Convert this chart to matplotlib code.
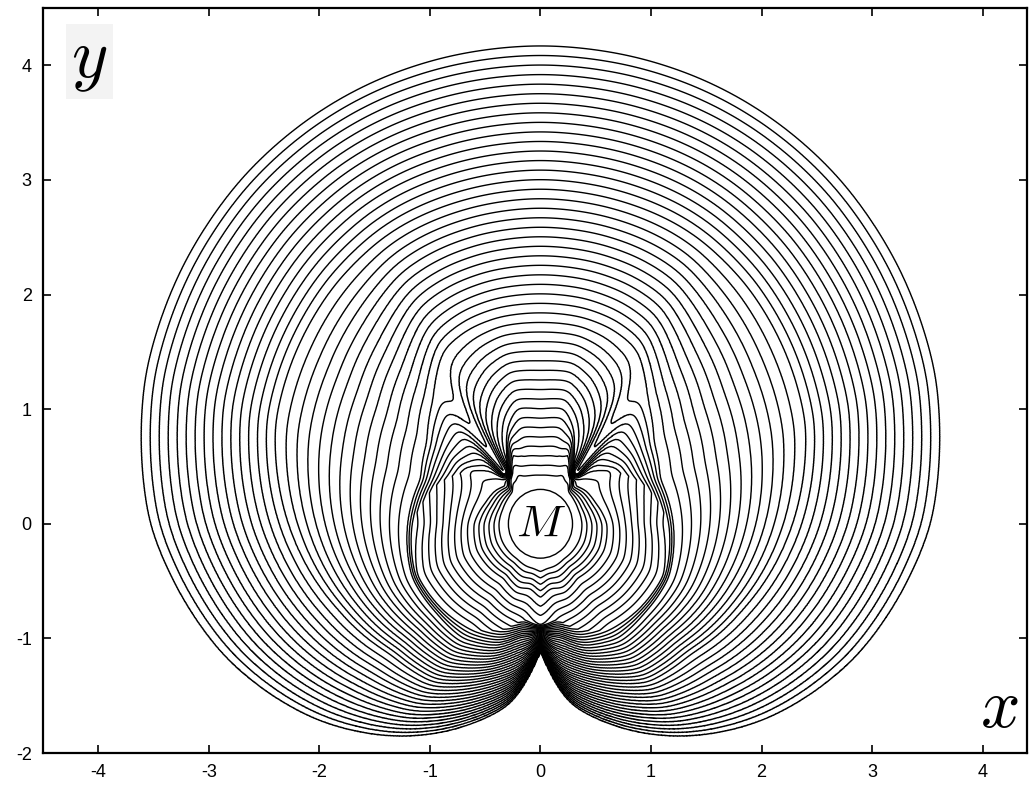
import numpy as np
import matplotlib
matplotlib.use("Agg")
import matplotlib.pyplot as plt
from matplotlib.patches import Ellipse

plt.rcParams['axes.unicode_minus'] = False
plt.rcParams['mathtext.fontset'] = 'cm'
plt.rcParams['font.family'] = ['Liberation Sans', 'DejaVu Sans']

# front index 0 = outermost, 46 = hugging M
levels = np.arange(0, 46)
k_in = 46

# radial profile of the fronts seen from the centre of M (right half, angle
# in degrees from straight up).
# index: k_in at r_a, k_b at r_b, k_c at r_c, 28 at r_28, 15 at r_15, 0 at r_out
phi_deg = [0, 12, 20, 25, 30, 33, 36, 42, 55, 70, 90, 112, 130, 145, 160, 170, 174, 178, 180]
r_a = [0.34, 0.34, 0.35, 0.37, 0.37, 0.38, 0.40, 0.36, 0.34, 0.33, 0.33, 0.33, 0.33, 0.33, 0.34, 0.35, 0.353, 0.357, 0.36]
k_b = [44, 44, 42, 44, 44, 44, 44, 40, 40, 40, 40, 40, 40, 40, 40, 41, 41, 41, 41]
r_b = [0.507, 0.52, 0.71, 0.58, 0.50, 0.48, 0.47, 0.45, 0.50, 0.53, 0.60, 0.62, 0.60, 0.58, 0.64, 0.57, 0.59, 0.63, 0.64]
k_c = [38, 38, 38, 38, 37, 34, 30, 38, 38, 34, 30, 31, 31, 31, 34, 37, 37.5, 38, 38]
r_c = [1.00, 1.03, 0.88, 0.72, 0.62, 0.56, 0.53, 0.60, 0.80, 1.00, 1.16, 1.20, 1.16, 1.12, 0.98, 0.84, 0.86, 0.875, 0.88]
r_28 = [1.84, 1.84, 1.82, 1.79, 1.75, 1.68, 1.60, 1.45, 1.25, 1.15, 1.20, 1.25, 1.22, 1.22, 1.13, 1.00, 0.99, 0.96, 0.943]
r_15 = [2.92, 2.91, 2.90, 2.89, 2.87, 2.85, 2.83, 2.79, 2.68, 2.55, 2.28, 1.98, 1.77, 1.69, 1.45, 1.30, 1.22, 1.10, 1.05]
r_out = [4.17, 4.16, 4.145, 4.13, 4.11, 4.095, 4.08, 4.045, 3.94, 3.80, 3.53, 3.08, 2.65, 2.26, 1.86, 1.60, 1.42, 1.20, 1.12]

m_size = [0.58, 0.60]

xticks = [-4, -3, -2, -1, 0, 1, 2, 3, 4]
yticks = [-2, -1, 0, 1, 2, 3, 4]

# fine angle table, lightly smoothed
dphi = 0.25
phi_f = np.arange(0, 180 + dphi / 2, dphi)
sig = 2.0 / dphi
kern = np.exp(-0.5 * (np.arange(-4 * sig, 4 * sig + 1) / sig) ** 2)
kern /= kern.sum()
n_pad = len(kern) // 2


def smooth_profile(vals):
    v = np.interp(phi_f, phi_deg, vals)
    top = v[1:n_pad + 1][::-1]                      # even at the top
    bot = 2 * v[-1] - v[-n_pad - 1:-1][::-1]        # keeps the V at the bottom
    return np.convolve(np.concatenate([top, v, bot]), kern, mode='valid')


r_knots = [smooth_profile(v) for v in (r_a, r_b, r_c, r_28, r_15, r_out)]
k_knots = [np.full_like(phi_f, k_in), smooth_profile(k_b), smooth_profile(k_c),
           np.full_like(phi_f, 28.0), np.full_like(phi_f, 15.0), np.zeros_like(phi_f)]

xs = np.linspace(-4.5, 4.4, 1800)
ys = np.linspace(-2.0, 4.5, 1400)
xx, yy = np.meshgrid(xs, ys)
r = np.hypot(xx, yy)
phi = np.degrees(np.arctan2(np.abs(xx), yy))
idx = np.clip(np.round(phi / dphi).astype(int), 0, len(phi_f) - 1)
R = [t[idx] for t in r_knots]
KK = [t[idx] for t in k_knots]

K = np.empty_like(r)
for i in range(5):
    seg = (KK[i] + (r - R[i]) / (R[i + 1] - R[i]) * (KK[i + 1] - KK[i]))
    if i == 0:
        m = r < R[1]
    elif i == 4:
        m = r >= R[4]
    else:
        m = (r >= R[i]) & (r < R[i + 1])
    K = np.where(m, seg, K)

fig = plt.figure(figsize=(10.3, 7.9), dpi=100)
ax = fig.add_axes([0.0417, 0.0468, 0.9553, 0.9431])
ax.contour(xx, yy, K, levels=levels, colors='black', linewidths=1.0)

ax.add_patch(Ellipse((0, 0), m_size[0], m_size[1], facecolor='white',
                     edgecolor='black', linewidth=1.0, zorder=5))
ax.text(0, -0.01, r'$M$', fontsize=33, ha='center', va='center', zorder=6)
ax.text(-4.08, 4.03, r'$y$', fontsize=50, ha='center', va='center',
        bbox=dict(facecolor='#f3f3f3', edgecolor='none', pad=4))
ax.text(4.15, -1.62, r'$x$', fontsize=50, ha='center', va='center')

ax.set_xlim(-4.5, 4.4)
ax.set_ylim(-2, 4.5)
ax.set_xticks(xticks)
ax.set_yticks(yticks)
ax.tick_params(direction='in', top=True, right=True, length=6, width=1.2,
               labelsize=13, pad=8)
for sp in ax.spines.values():
    sp.set_linewidth(1.6)

fig.savefig('out.png', dpi=100)
